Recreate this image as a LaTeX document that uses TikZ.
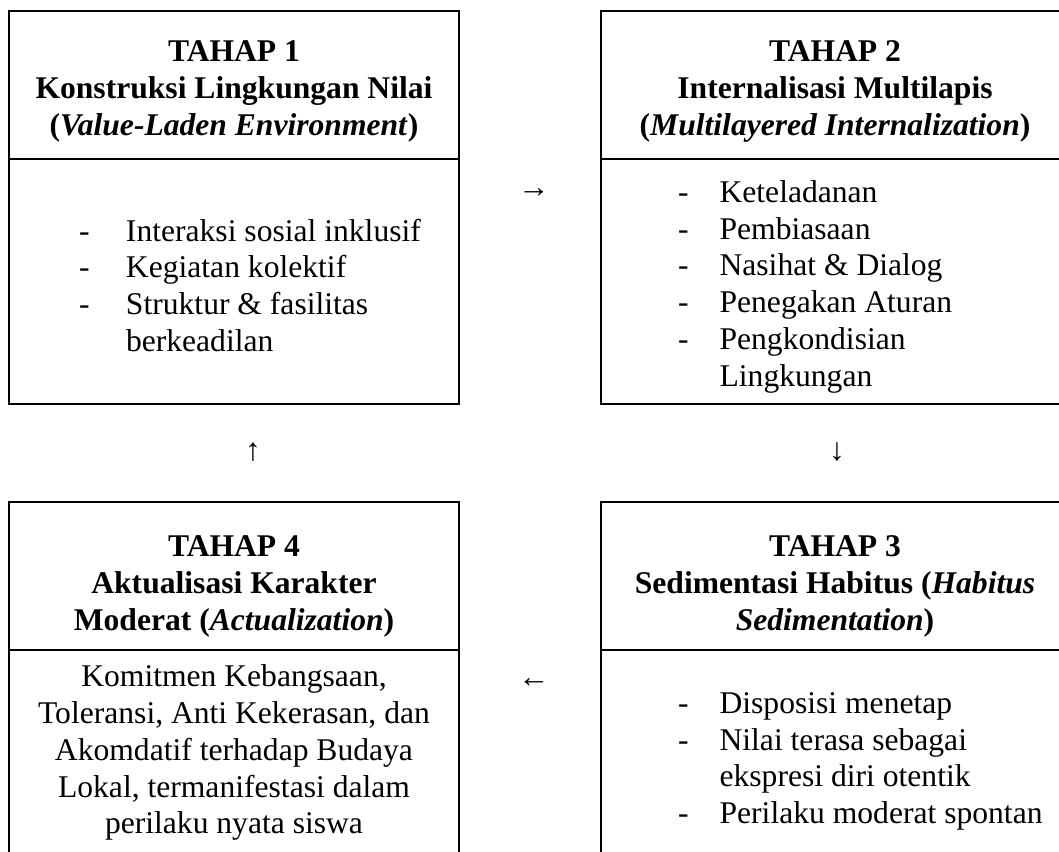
\documentclass[tikz,border=0pt]{standalone}
\usepackage{fontspec}
\setmainfont{Liberation Serif}

\begin{document}
\begin{tikzpicture}[x=0.5pt,y=-0.5pt,line width=1pt,
    txt/.style={inner sep=0pt,font=\fontsize{15.8}{18.35}\selectfont}]
\useasboundingbox (0,0) rectangle (1059,851);
\clip (0,0) rectangle (1059,851);
%frames
\foreach \l/\r in {9/459,601/1069}
    \foreach \t/\m/\b in {11/159/404,502/650/860}{
        \draw (\l,\t) rectangle (\r,\b);
        \draw (\l,\m) -- (\r,\m);
    }
%headers
\node[txt] (head1) at (234,91) {\bfseries\begin{tabular}{@{}c@{}}TAHAP 1\\Konstruksi Lingkungan Nilai\\(\textit{Value-Laden Environment})\end{tabular}};
\node[txt] (head2) at (835,91) {\bfseries\begin{tabular}{@{}c@{}}TAHAP 2\\Internalisasi Multilapis\\(\textit{Multilayered Internalization})\end{tabular}};
\node[txt] (head3) at (835,586) {\bfseries\begin{tabular}{@{}c@{}}TAHAP 3\\Sedimentasi Habitus (\textit{Habitus}\\\textit{Sedimentation})\end{tabular}};
\node[txt] (head4) at (234,586) {\bfseries\begin{tabular}{@{}c@{}}TAHAP 4\\Aktualisasi Karakter\\Moderat (\textit{Actualization})\end{tabular}};
%contents
\node[txt,anchor=west] (list1) at (78,289) {\begin{tabular}{@{}p{23.5pt}@{}l@{}}
    -&Interaksi sosial inklusif\\
    -&Kegiatan kolektif\\
    -&Struktur \& fasilitas\\
    &berkeadilan\end{tabular}};
\node[txt,anchor=west] (list2) at (677,287) {\begin{tabular}{@{}p{20.8pt}@{}l@{}}
    -&Keteladanan\\
    -&Pembiasaan\\
    -&Nasihat \& Dialog\\
    -&Penegakan Aturan\\
    -&Pengkondisian\\
    &Lingkungan\end{tabular}};
\node[txt,anchor=west] (list3) at (677,761) {\begin{tabular}{@{}p{20.8pt}@{}l@{}}
    -&Disposisi menetap\\
    -&Nilai terasa sebagai\\
    &ekspresi diri otentik\\
    -&Perilaku moderat spontan\end{tabular}};
\node[txt] (list4) at (234,753) {\begin{tabular}{@{}c@{}}
    Komitmen Kebangsaan,\\
    Toleransi, Anti Kekerasan, dan\\
    Akomdatif terhadap Budaya\\
    Lokal, termanifestasi dalam\\
    perilaku nyata siswa\end{tabular}};
%arrows
\node[txt] (next12) at (534,193) {→};
\node[txt] (next23) at (837,452) {↓};
\node[txt] (next34) at (534,683) {←};
\node[txt] (next41) at (253,452) {↑};
\end{tikzpicture}
\end{document}
